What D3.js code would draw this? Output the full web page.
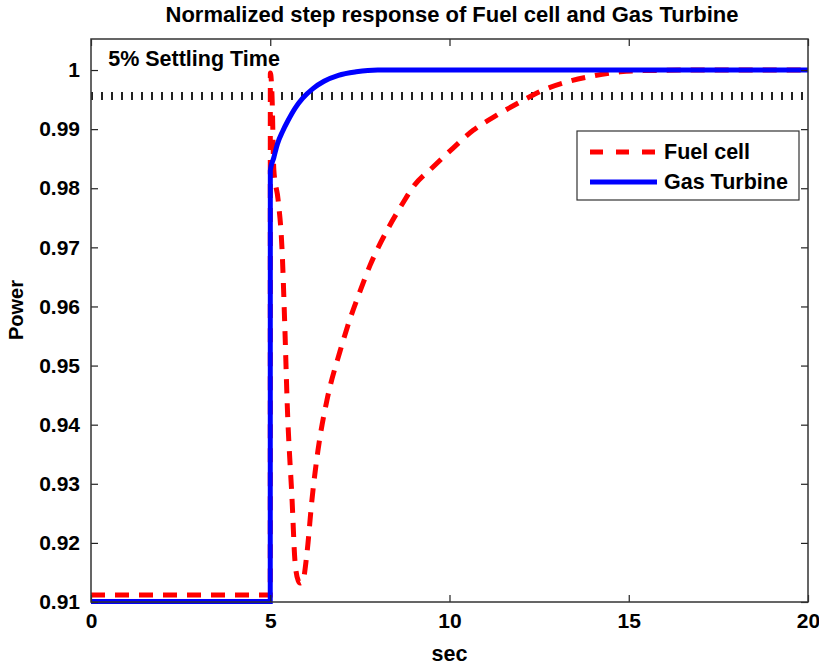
<!DOCTYPE html>
<html>
<head>
<meta charset="utf-8">
<script src="https://cdn.jsdelivr.net/npm/d3@7"></script>
<style>
  body { margin: 0; background: #fff; }
  text { font-family: "Liberation Sans", Arial, Helvetica, sans-serif; font-weight: bold; fill: #000; }
</style>
</head>
<body>
<div id="wrapper"></div>
<script>
// data
const fuelX = [0, 5, 5.002, 5.05, 5.10, 5.22, 5.33, 5.41, 5.47, 5.61, 5.69, 5.78, 5.83, 5.91, 6.03, 6.16, 6.33, 6.58, 6.95, 7.22, 7.5, 7.78, 8.26, 8.70, 8.98, 9.54, 10.10, 10.66, 11.33, 11.97, 12.61, 13.28, 14.0, 14.76, 15.4, 17, 20];
const fuelY = [0.9112, 0.9112, 0.9995, 0.9956, 0.9831, 0.978, 0.9695, 0.9559, 0.9441, 0.9271, 0.9169, 0.9136, 0.9132, 0.9136, 0.9186, 0.9271, 0.9356, 0.9441, 0.9525, 0.9578, 0.9625, 0.9669, 0.9729, 0.9775, 0.9802, 0.9836, 0.9868, 0.9898, 0.9924, 0.9946, 0.9966, 0.998, 0.999, 0.9997, 0.9999, 1.0, 1.0];

const gasX = [0, 5, 5.002, 5.1, 5.2, 5.35, 5.5, 5.7, 5.9, 6.2, 6.5, 6.9, 7.4, 8, 20];
const gasY = [0.9101, 0.9101, 0.983, 0.9852, 0.9875, 0.9897, 0.9915, 0.9936, 0.9952, 0.9969, 0.9981, 0.9991, 0.9997, 1.0, 1.0];

const settleX = [0, 20];
const settleY = [0.9956, 0.9956];

const xTicks = [0, 5, 10, 15, 20];
const yTicks = [0.91, 0.92, 0.93, 0.94, 0.95, 0.96, 0.97, 0.98, 0.99, 1];

const seriesNames = ["Fuel cell", "Gas Turbine"];
const seriesColors = ["#ff0000", "#0000ff"];

const drawChart = () => {
    const width = 819;
    let dimensions = {
        width: width,
        height: 666,
        margin: { top: 39, right: 11, bottom: 64, left: 91 }
    };
    dimensions.boundedWidth = dimensions.width - dimensions.margin.left - dimensions.margin.right;
    dimensions.boundedHeight = dimensions.height - dimensions.margin.top - dimensions.margin.bottom;

    const svg = d3.select("#wrapper")
        .append("svg")
        .attr("width", dimensions.width)
        .attr("height", dimensions.height);

    const bounds = svg.append("g")
        .attr("transform", `translate(${dimensions.margin.left},${dimensions.margin.top})`);

    const xScale = d3.scaleLinear()
        .domain([0, 20])
        .range([0, dimensions.boundedWidth]);

    const yScale = d3.scaleLinear()
        .domain([0.91, 1.00525])
        .range([dimensions.boundedHeight, 0]);

    const line = d3.line()
        .x(d => xScale(d[0]))
        .y(d => yScale(d[1]));

    // x always increases, so monotone keeps the curves from overshooting
    const smoothLine = d3.line()
        .x(d => xScale(d[0]))
        .y(d => yScale(d[1]))
        .curve(d3.curveMonotoneX);

    bounds.append("defs").append("clipPath").attr("id", "clip")
        .append("rect")
        .attr("width", dimensions.boundedWidth)
        .attr("height", dimensions.boundedHeight + 3);

    const plot = bounds.append("g").attr("clip-path", "url(#clip)");

    // 5% settling line
    plot.append("path")
        .datum(d3.zip(settleX, settleY))
        .attr("d", line)
        .attr("fill", "none")
        .attr("stroke", "#222")
        .attr("stroke-width", 8)
        .attr("stroke-dasharray", "2,8");

    plot.append("path")
        .datum(d3.zip(fuelX, fuelY))
        .attr("d", smoothLine)
        .attr("fill", "none")
        .attr("stroke", seriesColors[0])
        .attr("stroke-width", 5)
        .attr("stroke-dasharray", "14,10");

    plot.append("path")
        .datum(d3.zip(gasX, gasY))
        .attr("d", smoothLine)
        .attr("fill", "none")
        .attr("stroke", seriesColors[1])
        .attr("stroke-width", 5);

    // axes, matlab style (ticks inside, box)
    const tickLen = 7;
    const xAxisBottom = d3.axisBottom(xScale).tickValues(xTicks).tickSize(-tickLen).tickPadding(11).tickFormat(d3.format("d"));
    const xAxisTop = d3.axisTop(xScale).tickValues(xTicks).tickSize(-tickLen).tickFormat("");
    const yAxisLeft = d3.axisLeft(yScale).tickValues(yTicks).tickSize(-tickLen).tickPadding(11).tickFormat(d => d === 1 ? "1" : d3.format(".2f")(d));
    const yAxisRight = d3.axisRight(yScale).tickValues(yTicks).tickSize(-tickLen).tickFormat("");

    const styleAxis = g => {
        g.select(".domain").remove();
        g.selectAll(".tick line").attr("stroke", "#222").attr("stroke-width", 1.2);
        g.selectAll(".tick text").style("font-size", "21px").attr("fill", "#000");
    };

    bounds.append("g").attr("transform", `translate(0,${dimensions.boundedHeight})`).call(xAxisBottom).call(styleAxis);
    bounds.append("g").call(xAxisTop).call(styleAxis);
    bounds.append("g").call(yAxisLeft).call(styleAxis);
    bounds.append("g").attr("transform", `translate(${dimensions.boundedWidth},0)`).call(yAxisRight).call(styleAxis);

    bounds.append("rect")
        .attr("width", dimensions.boundedWidth)
        .attr("height", dimensions.boundedHeight)
        .attr("fill", "none")
        .attr("stroke", "#333")
        .attr("stroke-width", 1.5);

    // annotation
    bounds.append("text")
        .attr("x", xScale(0.48))
        .attr("y", 27)
        .style("font-size", "21.5px")
        .text("5% Settling Time");

    // title and labels
    svg.append("text")
        .attr("x", 452)
        .attr("y", 22)
        .attr("text-anchor", "middle")
        .style("font-size", "22px")
        .text("Normalized step response of Fuel cell and Gas Turbine");

    svg.append("text")
        .attr("x", dimensions.margin.left + dimensions.boundedWidth / 2)
        .attr("y", 661)
        .attr("text-anchor", "middle")
        .style("font-size", "21.5px")
        .text("sec");

    svg.append("text")
        .attr("transform", `translate(23,310) rotate(-90)`)
        .attr("text-anchor", "middle")
        .style("font-size", "20px")
        .text("Power");

    // legend
    const legend = bounds.append("g")
        .attr("transform", `translate(${577 - dimensions.margin.left},${131 - dimensions.margin.top})`);
    legend.append("rect")
        .attr("width", 222)
        .attr("height", 69)
        .attr("fill", "#fff")
        .attr("stroke", "#333")
        .attr("stroke-width", 1.2);
    seriesNames.forEach((name, i) => {
        const y = 21 + i * 30;
        legend.append("line")
            .attr("x1", 13).attr("x2", 80)
            .attr("y1", y).attr("y2", y)
            .attr("stroke", seriesColors[i])
            .attr("stroke-width", 5)
            .attr("stroke-dasharray", i === 0 ? "13,13" : null);
        legend.append("text")
            .attr("x", 87)
            .attr("y", y + 7)
            .style("font-size", "21.5px")
            .text(name);
    });
};

drawChart();
</script>
</body>
</html>
